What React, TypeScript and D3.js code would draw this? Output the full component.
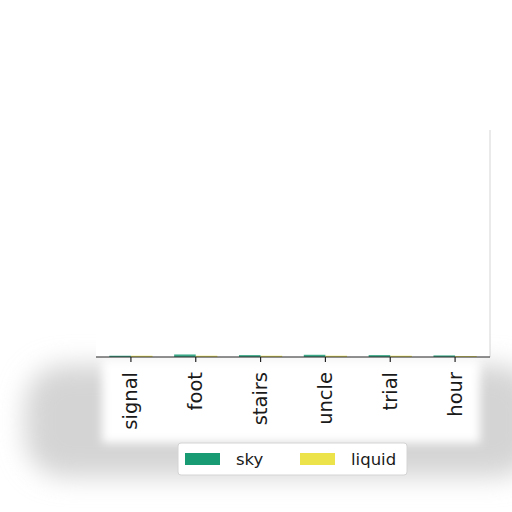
import { useEffect, useRef } from 'react'
import * as d3 from 'd3'

// chart data
const categories = ['signal', 'foot', 'stairs', 'uncle', 'trial', 'hour']
const seriesNames = ['sky', 'liquid']
const skyValues = [0.4, 0.8, 0.6, 0.7, 0.6, 0.5]
const liquidValues = [0.4, 0.4, 0.4, 0.4, 0.4, 0.3]
const seriesColors = ['#189a72', '#ece24a']

const W = 512
const H = 512

export default function App() {
  const svgRef = useRef<SVGSVGElement>(null)

  useEffect(() => {
    if (!svgRef.current) return
    const svg = d3.select(svgRef.current)
    svg.selectAll('*').remove()

    const margin = { top: 40, right: 22, bottom: 155, left: 96 }
    const x0 = margin.left
    const x1 = W - margin.right
    const yBase = H - margin.bottom

    const defs = svg.append('defs')
    const addBlur = (id: string, sd: number) =>
      defs.append('filter').attr('id', id)
        .attr('filterUnits', 'userSpaceOnUse')
        .attr('x', -100).attr('y', -100).attr('width', W + 200).attr('height', H + 200)
        .append('feGaussianBlur').attr('stdDeviation', sd)
    addBlur('blurBig', 13)
    addBlur('blurSmall', 5)

    svg.append('rect').attr('width', W).attr('height', H).attr('fill', '#fff')

    // soft grey shadow behind the lower part of the figure
    svg.append('rect')
      .attr('x', 25).attr('y', yBase + 8)
      .attr('width', W).attr('height', 112)
      .attr('rx', 40)
      .attr('fill', '#d4d4d4')
      .attr('filter', 'url(#blurBig)')
    svg.append('rect')
      .attr('x', x0 + 6).attr('y', yBase + 2)
      .attr('width', x1 - x0 - 16).attr('height', 84)
      .attr('fill', '#fff')
      .attr('filter', 'url(#blurSmall)')

    const x = d3.scaleBand<string>().domain(categories).range([x0 + 2.5, x1 - 2.5]).padding(0)
    const sub = d3.scaleBand<string>().domain(seriesNames).range([0, x.bandwidth()]).paddingOuter(0.5).paddingInner(0)
    const y = d3.scaleLinear().domain([0, 100]).range([yBase, margin.top])

    // plot area
    svg.append('rect')
      .attr('x', x0).attr('y', margin.top)
      .attr('width', x1 - x0).attr('height', yBase - margin.top)
      .attr('fill', '#fff')

    const g = svg.append('g')
    const series = [skyValues, liquidValues]
    series.forEach((vals, si) => {
      g.selectAll(`rect.s${si}`)
        .data(vals)
        .join('rect')
        .attr('class', `s${si}`)
        .attr('x', (_, i) => (x(categories[i]) ?? 0) + (sub(seriesNames[si]) ?? 0))
        .attr('y', (d) => y(d))
        .attr('width', sub.bandwidth())
        .attr('height', (d) => yBase - y(d))
        .attr('fill', seriesColors[si])
        .attr('opacity', 0.85)
    })

    // right spine (faded)
    svg.append('line')
      .attr('x1', x1).attr('x2', x1)
      .attr('y1', 130).attr('y2', yBase)
      .attr('stroke', '#aaa').attr('stroke-width', 1)
      .attr('opacity', 0.5)

    // x axis
    const xAxis = svg.append('g')
      .attr('transform', `translate(0,${yBase})`)
    xAxis.append('line')
      .attr('x1', x0).attr('x2', x1)
      .attr('y1', 0).attr('y2', 0)
      .attr('stroke', '#222').attr('stroke-width', 1.2)
    const ticks = xAxis.selectAll('g.tick')
      .data(categories)
      .join('g')
      .attr('class', 'tick')
      .attr('transform', (d) => `translate(${(x(d) ?? 0) + x.bandwidth() / 2},0)`)
    ticks.append('line')
      .attr('y1', 0).attr('y2', 5)
      .attr('stroke', '#222').attr('stroke-width', 1.2)
    ticks.append('text')
      .attr('transform', 'translate(0,15) rotate(-90)')
      .attr('text-anchor', 'end')
      .attr('dominant-baseline', 'central')
      .attr('font-family', 'DejaVu Sans')
      .attr('font-size', 19.5)
      .attr('fill', '#1a1a1a')
      .text((d) => d)

    // legend
    const lg = svg.append('g').attr('transform', 'translate(178,443)')
    lg.append('rect')
      .attr('width', 229).attr('height', 32)
      .attr('rx', 3)
      .attr('fill', '#fff')
      .attr('stroke', '#d4d4d4')
    const items = [
      { name: seriesNames[0], color: seriesColors[0], px: 7, tx: 58 },
      { name: seriesNames[1], color: seriesColors[1], px: 122, tx: 173 },
    ]
    items.forEach((it) => {
      lg.append('rect')
        .attr('x', it.px).attr('y', 10)
        .attr('width', 35).attr('height', 12)
        .attr('fill', it.color)
      lg.append('text')
        .attr('x', it.tx).attr('y', 22)
        .attr('font-family', 'DejaVu Sans')
        .attr('font-size', 16.5)
        .attr('fill', '#1a1a1a')
        .text(it.name)
    })
  }, [])

  return (
    <svg
      ref={svgRef}
      width={W}
      height={H}
      style={{ position: 'absolute', left: 0, top: 0, display: 'block' }}
    />
  )
}
